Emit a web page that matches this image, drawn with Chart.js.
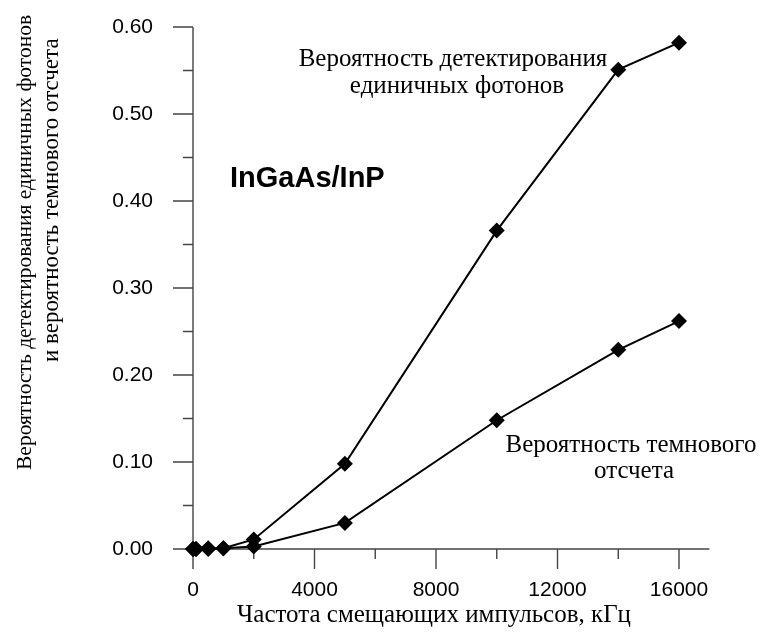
<!DOCTYPE html>
<html>
<head>
<meta charset="utf-8">
<script src="https://cdn.jsdelivr.net/npm/chart.js@4.4.1/dist/chart.umd.min.js"></script>
<style>
  body { margin: 0; background: #fff; }
  #wrap { width: 763px; height: 635px; position: relative; }
</style>
</head>
<body>
<div id="wrap"><canvas id="probChart"></canvas></div>
<script>
// bias pulse frequency, kHz
const freq = [0, 100, 500, 1000, 2000, 5000, 10000, 14000, 16000];
// single photon detection probability
const detectProb = [0, 0, 0.001, 0.001, 0.011, 0.098, 0.366, 0.551, 0.582];
// dark count probability
const darkProb = [0, 0, 0, 0.001, 0.003, 0.030, 0.148, 0.229, 0.262];

const xTicks = [0, 4000, 8000, 12000, 16000];
const yTicks = [0, 0.1, 0.2, 0.3, 0.4, 0.5, 0.6];

const serif = "'Liberation Serif', 'Times New Roman', serif";
const sans = "'Liberation Sans', Arial, sans-serif";

function toPoints(values) {
  return freq.map((f, i) => ({ x: f, y: values[i] }));
}

function isMajor(list, v) {
  return list.some(t => Math.abs(t - v) < 1e-6);
}

// axis lines with long major and short minor ticks
const axesPlugin = {
  id: "axesPlugin",
  beforeDatasetsDraw(chart) {
    let ctx = chart.ctx;
    let xs = chart.scales.x;
    let ys = chart.scales.y;
    let x0 = xs.getPixelForValue(0);
    let y0 = ys.getPixelForValue(0);
    ctx.save();
    ctx.strokeStyle = "#444";
    ctx.lineWidth = 1.4;
    ctx.beginPath();
    ctx.moveTo(x0, ys.getPixelForValue(0.6));
    ctx.lineTo(x0, y0);
    ctx.moveTo(x0, y0);
    ctx.lineTo(xs.getPixelForValue(17000), y0);
    for (let v = 0; v <= 16000; v += 2000) {
      let px = xs.getPixelForValue(v);
      ctx.moveTo(px, y0);
      ctx.lineTo(px, y0 + (isMajor(xTicks, v) ? 20 : 10));
    }
    for (let i = 0; i <= 12; i++) {
      let v = i * 0.05;
      let py = ys.getPixelForValue(v);
      ctx.moveTo(x0, py);
      ctx.lineTo(x0 - (isMajor(yTicks, v) ? 20 : 10), py);
    }
    ctx.stroke();
    ctx.restore();
  },
  afterDraw(chart) {
    let ctx = chart.ctx;
    ctx.save();
    ctx.fillStyle = "#000";

    // curve captions
    ctx.font = "25px " + serif;
    ctx.textAlign = "center";
    ctx.textBaseline = "alphabetic";
    ctx.fillText("Вероятность детектирования", 453, 66);
    ctx.fillText("единичных фотонов", 457, 93);
    ctx.fillText("Вероятность темнового", 631, 452);
    ctx.fillText("отсчета", 634, 478);

    // x axis title
    ctx.fillText("Частота смещающих импульсов, кГц", 434, 622);

    // y axis title, two rotated lines
    ctx.textAlign = "left";
    ctx.save();
    ctx.font = "21.5px " + serif;
    ctx.translate(31, 470);
    ctx.rotate(-Math.PI / 2);
    ctx.fillText("Вероятность детектирования единичных фотонов", 0, 0);
    ctx.restore();
    ctx.save();
    ctx.font = "23px " + serif;
    ctx.translate(58, 362);
    ctx.rotate(-Math.PI / 2);
    ctx.fillText("и вероятность темнового отсчета", 0, 0);
    ctx.restore();

    ctx.font = "bold 29px " + sans;
    ctx.fillText("InGaAs/InP", 230, 187);
    ctx.restore();
  }
};

let datasetStyle = {
  showLine: true,
  borderColor: "#000",
  borderWidth: 2,
  backgroundColor: "#000",
  pointStyle: "rectRot",
  pointRadius: 8,
  pointHoverRadius: 8,
  pointBorderWidth: 0,
  clip: false
};

let ctx = document.getElementById("probChart").getContext("2d");

let chart = new Chart(ctx, {
  type: "scatter",
  data: {
    datasets: [
      Object.assign({ label: "Вероятность детектирования единичных фотонов", data: toPoints(detectProb) }, datasetStyle),
      Object.assign({ label: "Вероятность темнового отсчета", data: toPoints(darkProb) }, datasetStyle)
    ]
  },
  options: {
    responsive: true,
    maintainAspectRatio: false,
    animation: false,
    layout: { padding: { top: 27, right: 84, left: 0, bottom: 0 } },
    plugins: {
      legend: { display: false },
      tooltip: { enabled: false }
    },
    scales: {
      x: {
        type: "linear",
        min: 0,
        max: 16000,
        grid: { display: false },
        border: { display: false },
        afterFit(scale) {
          scale.height = 86;
          scale.paddingLeft = 0;
          scale.paddingRight = 0;
        },
        ticks: {
          stepSize: 2000,
          maxRotation: 0,
          autoSkip: false,
          padding: 21,
          color: "#000",
          font: { family: sans, size: 21 },
          callback: v => isMajor(xTicks, v) ? String(v) : ""
        }
      },
      y: {
        type: "linear",
        min: 0,
        max: 0.6,
        grid: { display: false },
        border: { display: false },
        afterFit(scale) {
          scale.width = 193;
          scale.paddingTop = 0;
          scale.paddingBottom = 0;
        },
        ticks: {
          stepSize: 0.05,
          autoSkip: false,
          padding: 32,
          color: "#000",
          font: { family: sans, size: 21 },
          callback: v => isMajor(yTicks, v) ? v.toFixed(2) : ""
        }
      }
    }
  },
  plugins: [axesPlugin]
});
</script>
</body>
</html>
